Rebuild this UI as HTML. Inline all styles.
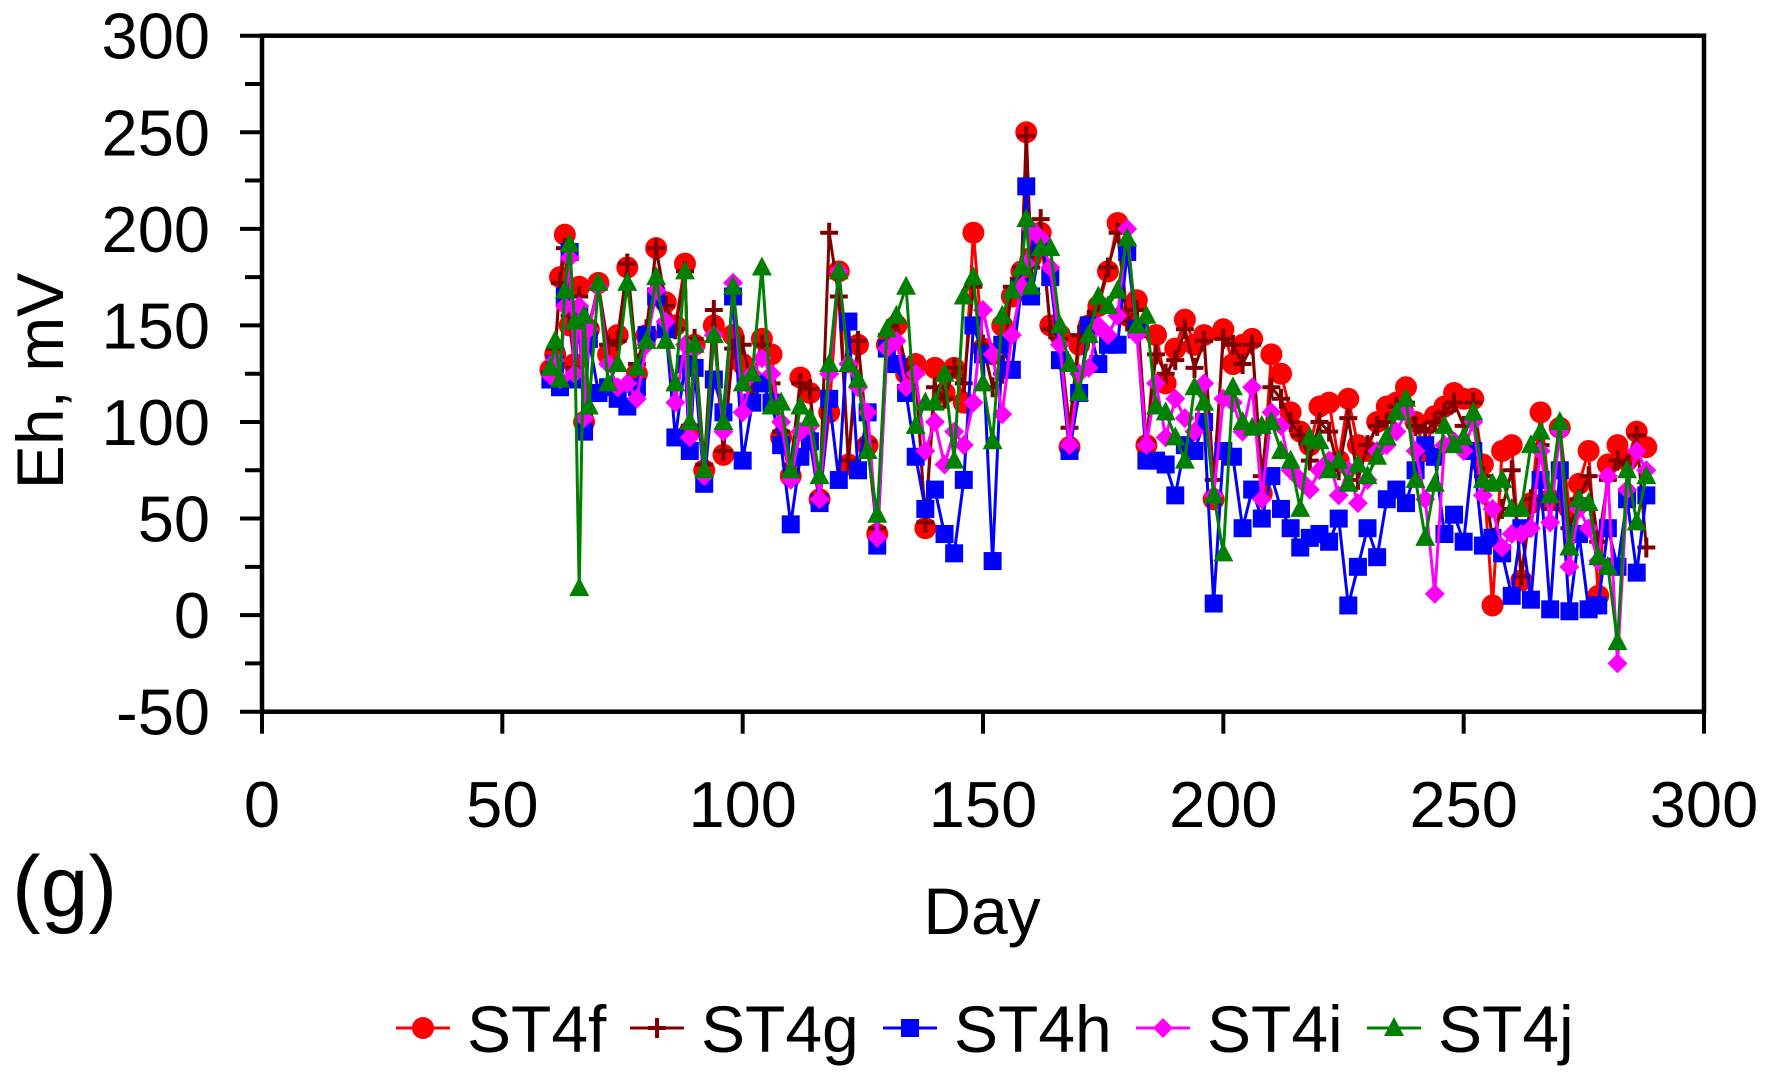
<!DOCTYPE html>
<html><head><meta charset="utf-8"><style>
html,body{margin:0;padding:0;background:#fff;}
svg{display:block;font-family:"Liberation Sans",Arial,sans-serif;}
</style></head><body>
<svg id="chart" width="1765" height="1080" viewBox="0 0 1765 1080" xmlns="http://www.w3.org/2000/svg">
<g id="series"></g>
<g id="axes"></g>
<text x="12" y="916" font-size="86">(g)</text>
<text x="982" y="934" font-size="66" text-anchor="middle">Day</text>
<text transform="translate(63,381) rotate(-90)" font-size="66" text-anchor="middle">Eh, mV</text>
<g id="legend"></g>
</svg>
<script>
const days=[60,61,62,63,64,65,66,67,68,70,72,74,76,78,80,82,84,86,88,89,90,92,94,96,98,100,102,104,106,108,110,112,114,116,118,120,122,124,126,128,130,132,134,136,138,140,142,144,146,148,150,152,154,156,158,159,160,162,164,166,168,170,172,174,176,178,180,182,184,186,188,190,192,194,196,198,200,202,204,206,208,210,212,214,216,218,220,222,224,226,228,230,232,234,236,238,240,242,244,246,248,250,252,254,256,258,260,262,264,266,268,270,272,274,276,278,280,282,284,286,288];
const st4f=[127,135,175,197,150,130,170,100,148,
172,135,145,180,125,145,190,162,150,182,
95,140,75,150,83,145,130,120,143,135,
92,72,123,115,60,105,178,78,140,88,
42,140,150,125,130,45,128,115,128,110,
198,138,135,150,165,178,250,185,198,150,
145,87,140,150,160,178,203,155,163,88,
145,120,138,153,140,145,60,148,130,140,
143,63,135,125,105,95,88,108,110,80,
112,88,85,100,108,110,118,100,85,103,
108,115,112,112,78,5,85,88,18,58,
105,60,97,55,68,85,10,78,88,80,
95,87];
const st4g=[125,138,172,190,155,128,165,103,150,
170,140,142,182,130,148,190,160,148,178,
98,143,78,158,85,138,140,118,140,120,
95,78,120,117,62,198,165,80,142,90,
45,145,152,128,125,48,118,112,128,120,
170,140,118,125,170,180,248,180,205,148,
143,97,145,153,162,180,198,152,158,90,
135,125,132,148,128,142,70,143,140,130,
140,72,118,112,100,93,80,100,95,75,
102,70,88,98,100,108,110,98,95,100,
105,110,98,110,72,40,55,75,20,60,
88,55,95,45,60,72,38,70,80,78,
93,35];
const st4h=[122,130,118,165,188,122,155,95,143,
115,118,112,108,118,145,165,148,92,130,
85,128,68,122,105,165,80,110,120,110,
88,47,82,90,58,112,70,152,75,105,
36,138,130,115,82,55,65,42,32,70,
150,135,28,140,127,170,222,165,192,175,
132,85,115,150,130,140,140,188,148,80,
80,78,62,88,85,100,6,85,82,45,
65,50,72,55,45,35,40,42,38,50,
5,25,45,30,60,65,58,75,88,82,
42,52,38,85,36,40,32,10,45,8,
70,3,75,2,42,3,5,45,25,60,
22,62];
const st4i=[124,132,122,160,185,125,160,102,148,
170,130,118,120,112,140,168,152,110,140,
92,138,72,145,95,172,105,125,133,125,
100,70,95,98,60,125,178,130,118,105,
40,138,142,118,125,85,100,78,95,88,
110,158,135,104,145,170,182,200,195,180,
140,88,125,128,150,145,155,200,145,88,
120,92,112,102,95,120,62,112,110,95,
118,60,105,98,75,70,65,75,80,62,
75,58,70,85,88,95,105,85,60,11,
88,90,85,100,62,55,35,42,42,45,
85,48,95,25,55,45,28,72,-25,65,
85,75];
const st4j=[128,142,122,168,192,152,14,155,108,
172,120,130,172,128,142,175,142,120,178,
100,140,75,145,100,170,120,125,180,108,
110,75,108,102,72,130,178,130,122,85,
52,148,155,170,98,110,110,125,80,165,
175,120,90,155,168,180,205,170,190,190,
150,130,115,145,165,160,168,195,150,155,
108,105,92,80,118,110,62,32,118,100,
97,98,100,85,80,55,92,90,75,80,
68,78,72,82,92,105,112,70,40,68,
98,88,92,105,70,68,70,55,55,88,
95,62,100,35,60,58,30,25,-14,75,
48,72];
const seriesNames=["ST4f","ST4g","ST4h","ST4i","ST4j"];
const xTicks=[0,50,100,150,200,250,300];
const yTicks=[-50,0,50,100,150,200,250,300];
const yMinor=[-25,25,75,125,175,225,275];

const L=262,R=1704,T=35.7,B=711.7;
const xs=d=>L+(d-0)*(R-L)/300;
const ys=v=>B-(v+50)*(B-T)/350;
const NS="http://www.w3.org/2000/svg";
function mk(tag,attrs,parent){const e=document.createElementNS(NS,tag);for(const k in attrs)e.setAttribute(k,attrs[k]);parent.appendChild(e);return e;}
const colors=["#ff0000","#800000","#0000ff","#ff00ff","#008000"];
const vals=[st4f,st4g,st4h,st4i,st4j];
function marker(k,x,y,g){
  let m;
  if(k===0){m=mk('circle',{cx:x,cy:y,r:11,fill:colors[0]},g);}
  else if(k===1){m=mk('path',{d:`M${x-9} ${y}H${x+9}M${x} ${y-10}V${y+10}`,stroke:colors[1],'stroke-width':4,fill:'none'},g);}
  else if(k===2){m=mk('rect',{x:x-9,y:y-9,width:18,height:18,fill:colors[2]},g);}
  else if(k===3){m=mk('path',{d:`M${x} ${y-10}L${x+10} ${y}L${x} ${y+10}L${x-10} ${y}Z`,fill:colors[3]},g);}
  else {m=mk('path',{d:`M${x} ${y-11}L${x+10} ${y+8}L${x-10} ${y+8}Z`,fill:colors[4]},g);}
  return m;
}
const sg=document.getElementById('series');
vals.forEach((arr,k)=>{
  const g=mk('g',{},sg);
  
  
  const pts=arr.map((v,i)=>xs(days[i]).toFixed(1)+','+ys(v).toFixed(1)).join(' ');
  const pl=mk('polyline',{points:pts,fill:'none',stroke:colors[k],'stroke-width':3},g);
  
  
  arr.forEach((v,i)=>{
    const m=marker(k,xs(days[i]),ys(v),g);
    
    
  });
});
const ax=document.getElementById('axes');
const frame=mk('rect',{x:L,y:T,width:R-L,height:B-T,fill:'none',stroke:'#000','stroke-width':4.5},ax);


yTicks.forEach(v=>{
  const y=ys(v);
  mk('line',{x1:L-22,x2:L,y1:y,y2:y,stroke:'#000','stroke-width':4},ax);
  const t=mk('text',{x:210,y:y+23,'font-size':65,'text-anchor':'end'},ax);
  t.textContent=v;
  
  
});
yMinor.forEach(v=>{const y=ys(v);mk('line',{x1:L-17,x2:L,y1:y,y2:y,stroke:'#000','stroke-width':4},ax);});
xTicks.forEach(v=>{
  const x=xs(v);
  mk('line',{x1:x,x2:x,y1:B,y2:B+22,stroke:'#000','stroke-width':4},ax);
  const t=mk('text',{x:x,y:827,'font-size':65,'text-anchor':'middle'},ax);
  t.textContent=v;
  
  
});
const lg=document.getElementById('legend');
const lx=[396,630,883,1136,1367];
seriesNames.forEach((n,k)=>{
  const g=mk('g',{},lg);
  
  
  const x0=lx[k],y=1028;
  mk('line',{x1:x0,x2:x0+54,y1:y,y2:y,stroke:colors[k],'stroke-width':3},g);
  marker(k,x0+27,y,g);
  const t=mk('text',{x:x0+71,y:y+24,'font-size':66},g);
  t.textContent=n;
});
</script>
</body></html>
